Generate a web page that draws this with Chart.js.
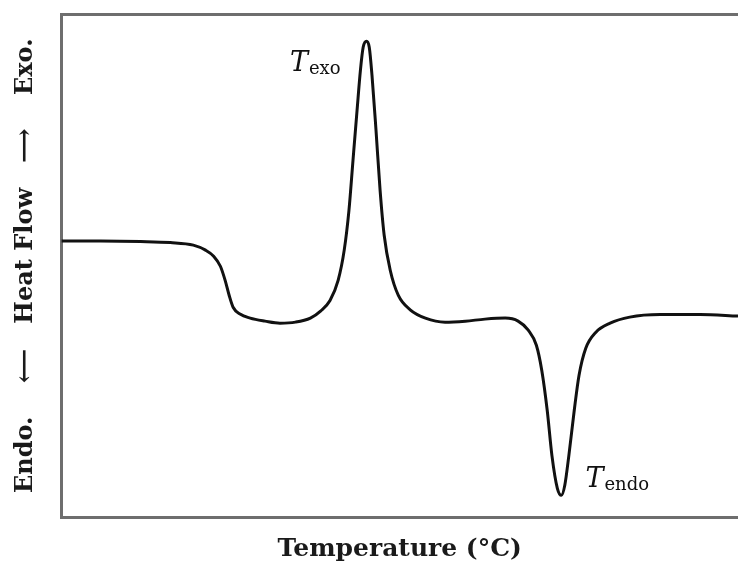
<!DOCTYPE html>
<html>
<head>
<meta charset="utf-8">
<script src="https://cdn.jsdelivr.net/npm/chart.js@4/dist/chart.umd.min.js"></script>
<style>
  html, body { margin: 0; padding: 0; background: #fff; }
  #wrap { width: 738px; height: 569px; }
</style>
</head>
<body>
<div id="wrap"><canvas id="myChart"></canvas></div>
<script>
// DSC curve (arbitrary units)
let temperature = [0, 5.8, 11.7, 16.1, 19.5, 21.3, 22.5, 23.5, 24.2, 24.8, 25.4, 26.4, 27.9, 30.1, 32.3, 34.6,
  36.8, 38.3, 39.7, 40.9, 41.8, 42.5, 43.1, 43.7, 44.2, 44.6, 45.1, 45.5, 45.9, 46.5, 47.1, 47.7, 48.6,
  49.8, 51.6, 53.8, 56.7, 59.7, 62.6, 65.6, 67.5, 69.0, 70.2, 71.0, 71.8, 72.5, 73.3, 73.9, 74.4, 75.0,
  75.8, 76.5, 77.5, 79.0, 81.1, 84.0, 88.5, 94.4, 100];
let heatFlow = [54.9, 54.9, 54.8, 54.6, 54.1, 53.1, 51.9, 49.9, 47.1, 44.1, 41.7, 40.4, 39.6, 39.0, 38.6, 38.8,
  39.6, 41.0, 43.1, 47.1, 53.1, 61.0, 71.0, 80.9, 88.9, 93.4, 94.6, 93.4, 87.9, 76.9, 65.0, 56.1, 49.1,
  44.1, 41.2, 39.6, 38.8, 39.0, 39.4, 39.6, 39.0, 37.2, 34.2, 29.2, 21.3, 12.3, 5.8, 4.4, 6.4, 12.3,
  21.3, 28.2, 33.6, 36.8, 38.6, 39.8, 40.3, 40.3, 40.0];

let xTitle = 'Temperature (°C)';
let yTitle = 'Endo.    \u27F5   Heat Flow   \u27F6    Exo.';
let peakLabels = [['T', 'exo'], ['T', 'endo']];

let points = [];
for (let i = 0; i < temperature.length; i++) {
  points.push({ x: temperature[i], y: heatFlow[i] });
}

// labels for the exo peak and the endo dip
const peakText = {
  id: 'peakText',
  afterDatasetsDraw(chart) {
    let ctx = chart.ctx;
    let xs = chart.scales.x;
    let ys = chart.scales.y;
    let hi = 0;
    let lo = 0;
    for (let i = 0; i < heatFlow.length; i++) {
      if (heatFlow[i] > heatFlow[hi]) hi = i;
      if (heatFlow[i] < heatFlow[lo]) lo = i;
    }
    ctx.save();
    ctx.fillStyle = '#111';
    ctx.textBaseline = 'alphabetic';

    // T exo, left of the peak
    let px = xs.getPixelForValue(temperature[hi]);
    let py = ys.getPixelForValue(heatFlow[hi]);
    ctx.font = '18px "DejaVu Serif"';
    let subW = ctx.measureText(peakLabels[0][1]).width;
    ctx.font = 'italic 27px "DejaVu Serif"';
    let tW = ctx.measureText(peakLabels[0][0]).width;
    let right = px - 26;
    ctx.fillText(peakLabels[0][0], right - subW - tW - 1, py + 30);
    ctx.font = '18px "DejaVu Serif"';
    ctx.fillText(peakLabels[0][1], right - subW, py + 33);

    // T endo, right of the dip
    px = xs.getPixelForValue(temperature[lo]);
    py = ys.getPixelForValue(heatFlow[lo]);
    ctx.font = 'italic 27px "DejaVu Serif"';
    tW = ctx.measureText(peakLabels[1][0]).width;
    ctx.fillText(peakLabels[1][0], px + 24, py - 8);
    ctx.font = '18px "DejaVu Serif"';
    ctx.fillText(peakLabels[1][1], px + 25 + tW, py - 5);
    ctx.restore();
  }
};

const config = {
  type: 'line',
  data: {
    datasets: [{
      data: points,
      borderColor: '#111',
      borderWidth: 3,
      pointRadius: 0,
      fill: false,
      cubicInterpolationMode: 'monotone'
    }]
  },
  options: {
    responsive: true,
    maintainAspectRatio: false,
    animation: false,
    layout: { padding: { left: 0, right: 0, top: 14, bottom: 0 } },
    plugins: {
      legend: { display: false },
      tooltip: { enabled: false }
    },
    scales: {
      x: {
        type: 'linear',
        min: 0,
        max: 100,
        grid: { display: false, drawTicks: false },
        border: { display: true, color: '#6e6e6e', width: 3 },
        ticks: { display: false },
        title: {
          display: true,
          text: xTitle,
          color: '#1a1a1a',
          font: { family: 'DejaVu Serif', size: 25, weight: 'bold', lineHeight: 1.1 },
          padding: { top: 18, bottom: 6 }
        }
      },
      x2: {
        type: 'linear',
        position: 'top',
        min: 0,
        max: 100,
        grid: { display: false, drawTicks: false },
        border: { display: true, color: '#6e6e6e', width: 3 },
        ticks: { display: false }
      },
      y: {
        min: 0,
        max: 100,
        grid: { display: false, drawTicks: false },
        border: { display: true, color: '#6e6e6e', width: 3 },
        ticks: { display: false },
        title: {
          display: true,
          text: yTitle,
          color: '#1a1a1a',
          font: { family: 'DejaVu Serif', size: 24, weight: 'bold', lineHeight: 1.1 },
          padding: { top: 13, bottom: 22 }
        }
      }
    }
  },
  plugins: [peakText]
};

var myChart = new Chart(document.getElementById('myChart'), config);
</script>
</body>
</html>
